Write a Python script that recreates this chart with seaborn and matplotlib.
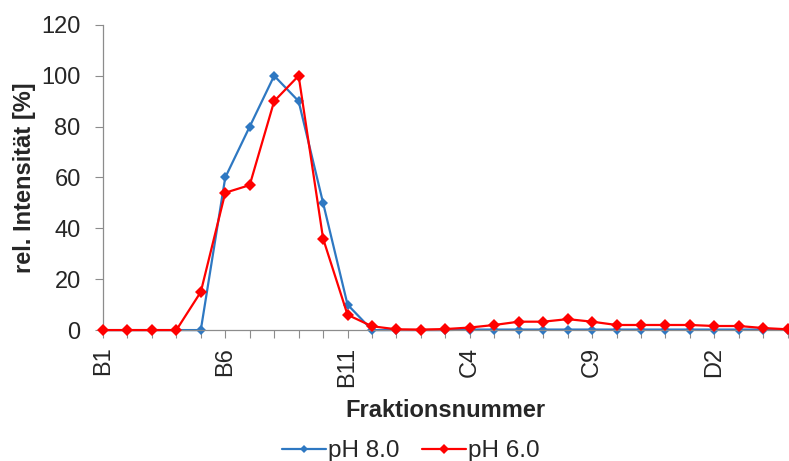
import numpy as np
import pandas as pd
import matplotlib
matplotlib.use("Agg")
import matplotlib.pyplot as plt
import seaborn as sns

# Fraction labels B1..B12, C1..C12, D1..D5
fractions = [f"B{i}" for i in range(1, 13)] + [f"C{i}" for i in range(1, 13)] + [f"D{i}" for i in range(1, 6)]
tick_labels = ["B1", "B6", "B11", "C4", "C9", "D2"]

ph80 = [0, 0, 0, 0, 0, 60, 80, 100, 90, 50, 10, 0,
        0, 0, 0, 0.2, 0.2, 0.2, 0.2, 0.2, 0.2, 0.2, 0.2, 0.2,
        0.2, 0.2, 0.2, 0.2, 0.2]
ph60 = [0, 0, 0, 0, 15, 54, 57, 90, 100, 36, 6, 1.5,
        0.3, 0.2, 0.4, 1, 2, 3.3, 3.3, 4.3, 3.3, 2, 2, 2,
        2, 1.6, 1.6, 0.8, 0.3]

series_names = ["pH 8.0", "pH 6.0"]
colors = ["#2E78C2", "#FF0000"]

df = pd.DataFrame({
    "pos": list(range(len(fractions))) * 2,
    "value": ph80 + ph60,
    "series": [series_names[0]] * len(fractions) + [series_names[1]] * len(fractions),
})

sns.set_style("white")
plt.rcParams["font.family"] = ["Liberation Sans", "DejaVu Sans"]

FS = 17
fig = plt.figure(figsize=(7.89, 4.61), dpi=100)
ax = fig.add_axes([0.1305, 0.284, 0.8695, 0.662])

sns.lineplot(data=df, x="pos", y="value", hue="series", hue_order=series_names,
             palette=colors, marker="D", markersize=5.5, markeredgewidth=0,
             linewidth=1.6, ax=ax, legend=True, clip_on=False)
# pH 6.0 drawn on top with slightly larger markers
for line in ax.lines:
    if line.get_color().lower() in ("#ff0000", "red"):
        line.set_markersize(6.5)
        line.set_zorder(3)

ax.set_xlim(0, 28.05)
ax.set_ylim(0, 120)
ax.set_yticks(np.arange(0, 121, 20))
ax.set_xticks(range(len(fractions)))
ax.set_xticklabels([f if f in tick_labels else "" for f in fractions],
                   rotation=90, fontsize=FS)
ax.tick_params(axis="y", labelsize=FS, length=6, width=0.8, color="#8C8C8C",
               direction="out", left=True, pad=10)
ax.tick_params(axis="x", length=6, width=0.8, color="#8C8C8C",
               direction="out", bottom=True, pad=6)

for side in ["top", "right"]:
    ax.spines[side].set_visible(False)
for side in ["left", "bottom"]:
    ax.spines[side].set_color("#8C8C8C")
    ax.spines[side].set_linewidth(0.9)

ax.set_ylabel("rel. Intensität [%]", fontsize=FS, fontweight="bold")
ax.yaxis.label.set_verticalalignment("center")
ax.yaxis.set_label_coords(-0.115, 0.5)
ax.set_xlabel("")
fig.text(445 / 789, 1 - 410 / 461, "Fraktionsnummer", fontsize=FS, fontweight="bold",
         ha="center", va="center")

handles, labels = ax.get_legend_handles_labels()
ax.get_legend().remove()
fig.legend(handles, labels, loc="center", bbox_to_anchor=(411 / 789, 1 - 451 / 461),
           ncol=2, frameon=False, fontsize=17.5, handlelength=1.8, handletextpad=0.1,
           columnspacing=0.9, markerscale=0.75, borderpad=0)

fig.savefig("out.png", dpi=100)
